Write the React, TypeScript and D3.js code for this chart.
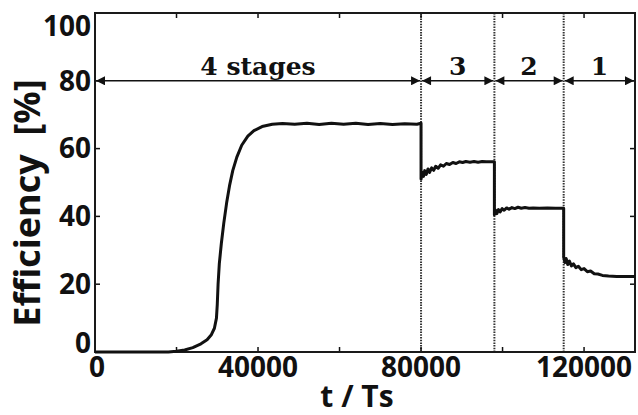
import React from "react";
import * as d3 from "d3";

// efficiency curve, [t/Ts, %], one array per stage configuration
const stage4 = [
  [0, 0], [18000, 0], [20000, 0.2], [22000, 0.6], [24000, 1.3], [26000, 2.4],
  [27500, 3.6], [28500, 5.0], [29300, 7.0], [29800, 10.0], [30000, 14], [30200, 20],
  [30500, 26], [31000, 32], [31600, 38], [32300, 44], [33000, 49], [33800, 53.5],
  [34800, 57.5], [36000, 61], [37500, 63.7], [39000, 65.3], [41000, 66.5], [43500, 67.2],
  [46000, 67.4], [49000, 67.2], [52000, 67.5], [55000, 67.1], [58000, 67.5], [61000, 67.2],
  [64000, 67.5], [67000, 67.1], [70000, 67.4], [73000, 67.1], [76000, 67.3], [79000, 67.2],
  [80000, 67.5],
];
const stage3 = [
  [80000, 51.0], [80300, 53.0], [80600, 51.8], [80900, 53.5], [81300, 52.4], [81700, 54.0],
  [82100, 53.0], [82600, 54.3], [83100, 53.6], [83600, 54.8], [84200, 54.2], [84800, 55.2],
  [85500, 54.8], [86200, 55.6], [87000, 55.3], [87800, 55.9], [88600, 55.6], [89400, 56.1],
  [90200, 55.9], [91000, 56.2], [92000, 56.0], [93000, 56.2], [94000, 56.0], [95000, 56.2],
  [96000, 56.1], [98000, 56.1],
];
const stage2 = [
  [98000, 40.5], [98300, 41.8], [98600, 40.8], [99000, 42.0], [99400, 41.3], [99900, 42.3],
  [100400, 41.8], [101000, 42.5], [101600, 42.1], [102300, 42.6], [103000, 42.3], [103800, 42.7],
  [104600, 42.4], [105500, 42.6], [106500, 42.4], [107500, 42.5], [109000, 42.4], [111000, 42.5],
  [113000, 42.4], [115000, 42.4],
];
const stage1 = [
  [115000, 28.0], [115300, 26.4], [115600, 27.6], [116000, 25.8], [116400, 26.8], [116900, 25.4],
  [117400, 26.0], [118000, 24.9], [118600, 25.3], [119300, 24.3], [120000, 24.6], [120800, 23.7],
  [121600, 23.9], [122500, 23.1], [123400, 23.0], [124500, 22.6], [126000, 22.4], [128000, 22.3],
  [130000, 22.3], [132500, 22.3],
];

const boundaries = [0, 80000, 98000, 115000, 132500];
const stageLabels = ["4 stages", "3", "2", "1"];
const xTicks = [0, 20000, 40000, 60000, 80000, 100000, 120000];
const xTickLabels = ["0", "", "40000", "", "80000", "", "120000"];
const yTicks = [0, 20, 40, 60, 80, 100];

const W = 638, H = 415;
const left = 95, right = 635, top = 13, bottom = 352;

const App = () => {
  const x = d3.scaleLinear().domain([0, 132500]).range([left, right]);
  const y = d3.scaleLinear().domain([0, 100]).range([bottom, top]);

  const line = d3.line<number[]>().x(d => x(d[0])).y(d => y(d[1]));
  // one continuous path, the drops are vertical
  const curve = [...stage4, ...stage3, ...stage2, ...stage1];

  const sans = "'Open Sans', sans-serif";
  const serif = "'DejaVu Serif', serif";

  return (
    <svg width={W} height={H} style={{ position: "absolute", left: 0, top: 0, background: "#fff" }}>
      <defs>
        <marker id="ah" viewBox="0 0 10 10" refX="10" refY="5" markerWidth="10" markerHeight="9"
          markerUnits="userSpaceOnUse" orient="auto-start-reverse">
          <path d="M0,0 L10,5 L0,10 z" fill="#111" />
        </marker>
      </defs>

      {/* stage boundaries */}
      {boundaries.slice(1, 4).map(b => (
        <line key={b} x1={x(b)} x2={x(b)} y1={top} y2={bottom}
          stroke="#333" strokeWidth={2} strokeDasharray="1.5 1.2" />
      ))}

      {/* ticks, inward on all four sides */}
      {xTicks.slice(1).map(t => (
        <g key={t} stroke="#111" strokeWidth={1.5}>
          <line x1={x(t)} x2={x(t)} y1={bottom} y2={bottom - 5} />
          <line x1={x(t)} x2={x(t)} y1={top} y2={top + 5} />
        </g>
      ))}
      {yTicks.slice(1, 5).map(t => (
        <g key={t} stroke="#111" strokeWidth={1.5}>
          <line x1={left} x2={left + 5} y1={y(t)} y2={y(t)} />
          <line x1={right} x2={right - 5} y1={y(t)} y2={y(t)} />
        </g>
      ))}

      {/* frame */}
      <rect x={left} y={top} width={right - left} height={bottom - top}
        fill="none" stroke="#1a1a1a" strokeWidth={2} />

      {/* efficiency */}
      <path d={line(curve) || ""} fill="none" stroke="#111" strokeWidth={3}
        strokeLinejoin="round" />

      {/* stage arrows */}
      {stageLabels.map((s, i) => {
        const a = boundaries[i], b = boundaries[i + 1];
        return (
          <g key={s}>
            <line x1={x(a) + 1} x2={x(b) - 1} y1={y(80)} y2={y(80)} stroke="#111" strokeWidth={1.5}
              markerStart="url(#ah)" markerEnd="url(#ah)" />
            <text x={(x(a) + x(b)) / 2} y={y(80) - 6} textAnchor="middle" fontFamily={serif}
              fontWeight="bold" fontSize={25} fill="#111">{s}</text>
          </g>
        );
      })}

      {/* tick labels */}
      {xTicks.map((t, i) => (
        <text key={t} x={x(t) + (t === 0 ? 2 : 0)} y={bottom + 25} textAnchor="middle" fontFamily={sans}
          fontWeight="bold" fontSize={28} fill="#111">{xTickLabels[i]}</text>
      ))}
      {yTicks.map(t => (
        <text key={t} x={left - 4} y={y(t) + (t === 100 ? 13 : t === 0 ? -9 : 0)}
          dy="0.35em" textAnchor="end" fontFamily={sans} fontWeight="bold" fontSize={28}
          fill="#111">{t}</text>
      ))}

      {/* axis titles */}
      <text x={357} y={407} textAnchor="middle" fontFamily={sans} fontWeight="bold"
        fontSize={30} fill="#111">t / Ts</text>
      <text transform="translate(40,203) rotate(-90)" textAnchor="middle" fontFamily={sans}
        fontWeight="bold" fontSize={36} fill="#111" style={{ whiteSpace: "pre" }}>Efficiency  [%]</text>
    </svg>
  );
};

export default App;
